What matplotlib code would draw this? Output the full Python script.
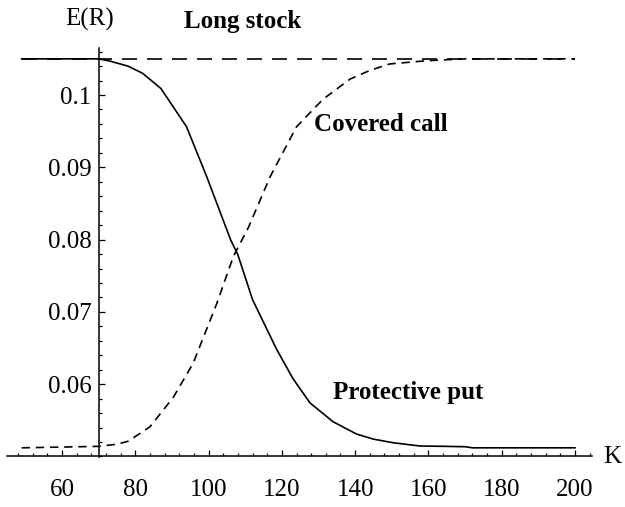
import numpy as np
import matplotlib
matplotlib.use("Agg")
import matplotlib.pyplot as plt
from matplotlib.ticker import MultipleLocator

# strike price K vs expected return E(R)
put_k = [49, 70, 73, 78, 82, 87, 94, 99.5, 106, 108, 112, 118.6, 123, 127.7,
         134, 140.4, 145, 150.4, 157.7, 165, 170, 172, 180, 200]
put_er = [0.105, 0.105, 0.1047, 0.1040, 0.1030, 0.1009, 0.0956, 0.0887, 0.0800,
          0.0779, 0.0717, 0.0648, 0.0608, 0.0574, 0.0548, 0.0531, 0.0524, 0.0519,
          0.05145, 0.0514, 0.05135, 0.0512, 0.0512, 0.0512]

call_k = [49, 70, 75, 78, 84, 90.4, 95.8, 102.2, 106.8, 110.9, 116.8, 124,
          131.2, 138.6, 144, 149.5, 159.5, 170, 200]
call_er = [0.0512, 0.0514, 0.0517, 0.0521, 0.0541, 0.0582, 0.0629, 0.0711, 0.0777,
           0.0817, 0.0887, 0.0956, 0.0994, 0.1022, 0.1034, 0.1043, 0.10474, 0.1050, 0.1050]

stock_k = [49, 200]
stock_er = [0.105, 0.105]

xticks = [60, 80, 100, 120, 140, 160, 180, 200]
yticks = [0.06, 0.07, 0.08, 0.09, 0.1]
ytick_labels = ["0.06", "0.07", "0.08", "0.09", "0.1"]

plt.rcParams['font.family'] = ['Liberation Serif', 'DejaVu Serif']

fig = plt.figure(figsize=(6.25, 5.07), dpi=100)
ax = fig.add_axes([0.0112, 0.0982, 0.9352, 0.8071])

ax.plot(stock_k, stock_er, color='black', lw=1.2, dashes=(9, 6))
ax.plot(call_k, call_er, color='black', lw=1.2, dashes=(5, 3.5))
ax.plot(put_k, put_er, color='black', lw=1.2)

ax.set_xlim(45, 204.5)
ax.set_ylim(0.0499, 0.1065)

# Mathematica-style crossing axes
ax.spines['left'].set_position(('data', 70))
ax.spines['bottom'].set_position(('data', 0.05))
ax.spines['top'].set_visible(False)
ax.spines['right'].set_visible(False)
for s in ['left', 'bottom']:
    ax.spines[s].set_linewidth(1.1)

ax.set_xticks(xticks)
ax.set_yticks(yticks)
ax.set_yticklabels(ytick_labels)
ax.xaxis.set_minor_locator(MultipleLocator(4))
ax.yaxis.set_minor_locator(MultipleLocator(0.002))
ax.tick_params(which='both', direction='in', width=0.9, labelsize=18)
ax.tick_params(which='major', length=4)
ax.tick_params(which='minor', length=2.5)
ax.tick_params(axis='x', pad=16)
ax.tick_params(axis='y', pad=5)

ax.text(67.6, 0.1104, "E(R)", fontsize=18, ha='center', va='center')
ax.text(210.1, 0.0499, "K", fontsize=18, ha='center', va='center')
ax.text(109.4, 0.1101, "Long stock", fontsize=18, fontweight='bold', ha='center', va='center')
ax.text(128.8, 0.0959, "Covered call", fontsize=18, fontweight='bold', ha='left', va='center')
ax.text(134, 0.0588, "Protective put", fontsize=18, fontweight='bold', ha='left', va='center')

fig.savefig("out.png", dpi=100)
